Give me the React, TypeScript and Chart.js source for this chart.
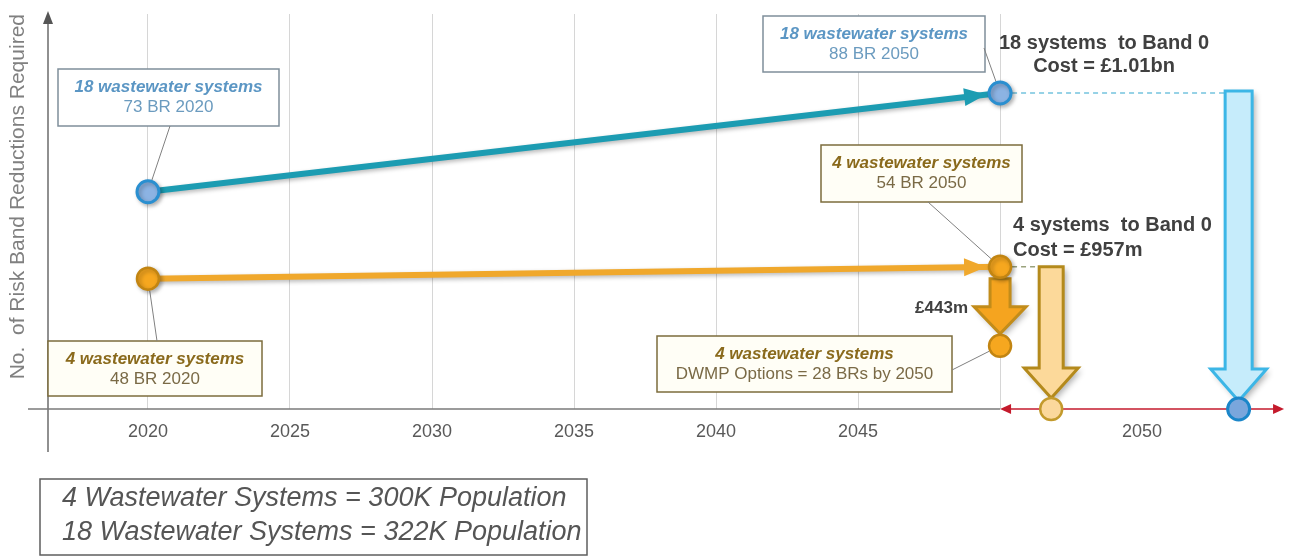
import React, { useEffect, useRef } from 'react';
import { Chart, registerables } from 'chart.js';

Chart.register(...registerables);

const FONT = "'Liberation Sans', Arial, Helvetica, sans-serif";

// ---------- data ----------
const seriesYears = [2020, 2050];
// plotted level on the (unlabelled) vertical axis
const systems18Level = [55, 80];
const systems4Level = [33, 36];
// risk band reductions written in the call-outs
const br18 = [73, 88];
const br4 = [48, 54];
const dwmpYear = [2050];
const dwmpLevel = [16];
const dwmpBR = [28];
const band0Years = [2051.8, 2058.4];
const band0Level = [0, 0];
const systemCounts = [18, 4];
const costLabels = ['£1.01bn', '£957m', '£443m'];
const populationLabels = ['300K', '322K'];
const gridYears = [2020, 2025, 2030, 2035, 2040, 2045, 2050];
const tickLabelYears = [2020, 2025, 2030, 2035, 2040, 2045, 2055];
const tickLabels = ['2020', '2025', '2030', '2035', '2040', '2045', '2050'];
const axisRange = [2016.48, 2059.68];
const axisEndYear = 2060;
const yTitle = 'No.  of Risk Band Reductions Required';

const allTicks = Array.from(new Set([...gridYears, ...tickLabelYears])).sort((a, b) => a - b);

// ---------- colours ----------
const BLUE_LINE = '#1c9cb2';
const BLUE_FILL = '#8cb3e3';
const BLUE_EDGE = '#2a8fd0';
const GOLD_LINE = '#f0a82c';
const GOLD_FILL = '#f6a71f';
const GOLD_EDGE = '#c28512';

type Box = {
  x: number; y: number; w: number; h: number; kind: 'blue' | 'gold';
  title: string; sub: string; from: [number, number]; ds: number; idx: number;
};

const BOXES: Box[] = [
  { x: 58, y: 69, w: 221, h: 57, kind: 'blue', title: `${systemCounts[0]} wastewater systems`, sub: `${br18[0]} BR ${seriesYears[0]}`, from: [170, 126], ds: 0, idx: 0 },
  { x: 763, y: 16, w: 222, h: 56, kind: 'blue', title: `${systemCounts[0]} wastewater systems`, sub: `${br18[1]} BR ${seriesYears[1]}`, from: [984, 48], ds: 0, idx: 1 },
  { x: 821, y: 145, w: 201, h: 57, kind: 'gold', title: `${systemCounts[1]} wastewater systems`, sub: `${br4[1]} BR ${seriesYears[1]}`, from: [928, 202], ds: 1, idx: 1 },
  { x: 657, y: 336, w: 295, h: 56, kind: 'gold', title: `${systemCounts[1]} wastewater systems`, sub: `DWMP Options = ${dwmpBR[0]} BRs by ${dwmpYear[0]}`, from: [952, 370], ds: 2, idx: 0 },
  { x: 48, y: 341, w: 214, h: 55, kind: 'gold', title: `${systemCounts[1]} wastewater systems`, sub: `${br4[0]} BR ${seriesYears[0]}`, from: [157, 341], ds: 1, idx: 0 },
];

function text(ctx: CanvasRenderingContext2D, s: string, x: number, y: number, size: number, color: string,
  o: { align?: CanvasTextAlign; weight?: string; style?: string } = {}) {
  ctx.save();
  ctx.font = `${o.style || 'normal'} ${o.weight || 'normal'} ${size}px ${FONT}`;
  ctx.fillStyle = color;
  ctx.textAlign = o.align || 'center';
  ctx.textBaseline = 'middle';
  ctx.fillText(s, x, y);
  ctx.restore();
}

function bigArrow(ctx: CanvasRenderingContext2D, cx: number, yTop: number, yTip: number, shw: number, hhw: number,
  hl: number, fill: string, stroke: string) {
  const yb = yTip - hl;
  ctx.save();
  ctx.beginPath();
  ctx.moveTo(cx - shw, yTop);
  ctx.lineTo(cx + shw, yTop);
  ctx.lineTo(cx + shw, yb);
  ctx.lineTo(cx + hhw, yb);
  ctx.lineTo(cx, yTip);
  ctx.lineTo(cx - hhw, yb);
  ctx.lineTo(cx - shw, yb);
  ctx.closePath();
  ctx.shadowColor = 'rgba(0,0,0,0.32)';
  ctx.shadowBlur = 6;
  ctx.shadowOffsetX = 3;
  ctx.shadowOffsetY = 3;
  ctx.fillStyle = fill;
  ctx.fill();
  ctx.shadowColor = 'rgba(0,0,0,0)';
  ctx.lineJoin = 'miter';
  ctx.lineWidth = 3;
  ctx.strokeStyle = stroke;
  ctx.stroke();
  ctx.restore();
}

function tri(ctx: CanvasRenderingContext2D, tx: number, ty: number, ux: number, uy: number, len: number, hw: number, color: string) {
  const bx = tx - ux * len, by = ty - uy * len;
  ctx.beginPath();
  ctx.moveTo(tx, ty);
  ctx.lineTo(bx - uy * hw, by + ux * hw);
  ctx.lineTo(bx + uy * hw, by - ux * hw);
  ctx.closePath();
  ctx.fillStyle = color;
  ctx.fill();
}

const infographic = {
  id: 'infographic',
  beforeDatasetsDraw(chart: any) {
    const { ctx, chartArea: ca, scales } = chart;
    const X = (v: number) => scales.x.getPixelForValue(v);
    const Y = (v: number) => scales.y.getPixelForValue(v);
    const y0 = Y(0);
    const xEnd = X(axisEndYear);
    ctx.save();

    // vertical axis with arrow
    ctx.strokeStyle = '#6b6b6b';
    ctx.lineWidth = 1.5;
    ctx.beginPath();
    ctx.moveTo(ca.left, 452);
    ctx.lineTo(ca.left, 20);
    ctx.stroke();
    tri(ctx, ca.left, 11, 0, -1, 13, 5, '#555');

    // horizontal axis (grey part)
    ctx.strokeStyle = '#7a7a7a';
    ctx.beginPath();
    ctx.moveTo(28, y0);
    ctx.lineTo(X(2050), y0);
    ctx.stroke();

    // red double-headed 2050 segment
    ctx.strokeStyle = '#c41a2c';
    ctx.lineWidth = 1.5;
    ctx.beginPath();
    ctx.moveTo(X(2050) + 6, y0);
    ctx.lineTo(xEnd - 6, y0);
    ctx.stroke();
    tri(ctx, X(2050), y0, -1, 0, 11, 5, '#c41a2c');
    tri(ctx, xEnd, y0, 1, 0, 11, 5, '#c41a2c');

    // dashed connectors
    const p18 = chart.getDatasetMeta(0).data[1];
    const p4 = chart.getDatasetMeta(1).data[1];
    ctx.setLineDash([5, 4]);
    ctx.lineWidth = 1.5;
    ctx.strokeStyle = '#74c3de';
    ctx.beginPath();
    ctx.moveTo(p18.x + 12, p18.y);
    ctx.lineTo(X(band0Years[1]), p18.y);
    ctx.stroke();
    ctx.strokeStyle = '#9aa27c';
    ctx.beginPath();
    ctx.moveTo(p4.x + 12, p4.y);
    ctx.lineTo(X(band0Years[0]), p4.y);
    ctx.stroke();
    ctx.setLineDash([]);

    // big arrows
    bigArrow(ctx, X(band0Years[1]), Y(systems18Level[1]) - 2, y0 - 8, 13.5, 28, 32, '#c6ecfb', '#3cb6e6');
    bigArrow(ctx, X(band0Years[0]), Y(systems4Level[1]), y0 - 11, 12, 27, 30, '#fcd99a', '#b48a1c');
    bigArrow(ctx, X(dwmpYear[0]), Y(systems4Level[1]) + 12, Y(dwmpLevel[0]) - 12, 10, 26, 27, '#f5a41f', '#c28c1a');

    // call-out boxes with leader lines
    for (const b of BOXES) {
      const blue = b.kind === 'blue';
      ctx.fillStyle = blue ? '#ffffff' : '#fffef6';
      ctx.fillRect(b.x, b.y, b.w, b.h);
      ctx.strokeStyle = blue ? '#7f8e9a' : '#7c6c3c';
      ctx.lineWidth = 1.5;
      ctx.strokeRect(b.x, b.y, b.w, b.h);
      const cx = b.x + b.w / 2;
      text(ctx, b.title, cx, b.y + 18, 17, blue ? '#5b96c4' : '#8a6a1c', { weight: 'bold', style: 'italic' });
      text(ctx, b.sub, cx, b.y + 38, 17, blue ? '#6b9bbf' : '#7a6a46');
      const pt = chart.getDatasetMeta(b.ds).data[b.idx];
      const dx = b.from[0] - pt.x, dy = b.from[1] - pt.y;
      const d = Math.hypot(dx, dy);
      ctx.strokeStyle = '#808080';
      ctx.lineWidth = 1;
      ctx.beginPath();
      ctx.moveTo(b.from[0], b.from[1]);
      ctx.lineTo(pt.x + (dx / d) * 12, pt.y + (dy / d) * 12);
      ctx.stroke();
    }

    // cost annotations
    text(ctx, `${systemCounts[0]} systems  to Band 0`, 1104, 43, 20, '#404040', { weight: 'bold' });
    text(ctx, `Cost = ${costLabels[0]}`, 1104, 66, 20, '#404040', { weight: 'bold' });
    text(ctx, `${systemCounts[1]} systems  to Band 0`, 1013, 225, 20, '#404040', { weight: 'bold', align: 'left' });
    text(ctx, `Cost = ${costLabels[1]}`, 1013, 250, 20, '#404040', { weight: 'bold', align: 'left' });
    text(ctx, costLabels[2], 968, 308, 17, '#404040', { weight: 'bold', align: 'right' });

    // population key
    ctx.fillStyle = '#ffffff';
    ctx.fillRect(40, 479, 547, 76);
    ctx.strokeStyle = '#5e5e5e';
    ctx.lineWidth = 1.5;
    ctx.strokeRect(40, 479, 547, 76);
    text(ctx, `${systemCounts[1]} Wastewater Systems = ${populationLabels[0]} Population`, 62, 498, 27, '#555555', { style: 'italic', align: 'left' });
    text(ctx, `${systemCounts[0]} Wastewater Systems = ${populationLabels[1]} Population`, 62, 532, 27, '#555555', { style: 'italic', align: 'left' });

    ctx.restore();
  },
  beforeDatasetDraw(chart: any, args: any) {
    const ctx = chart.ctx;
    ctx.save();
    if (args.index <= 1) {
      ctx.shadowColor = 'rgba(0,0,0,0.28)';
      ctx.shadowBlur = 4;
      ctx.shadowOffsetX = 2;
      ctx.shadowOffsetY = 2;
    }
  },
  afterDatasetDraw(chart: any) {
    chart.ctx.restore();
  },
  afterDatasetsDraw(chart: any) {
    const ctx = chart.ctx;
    const heads = [
      { ds: 0, color: BLUE_LINE },
      { ds: 1, color: GOLD_LINE },
    ];
    for (const h of heads) {
      const pts = chart.getDatasetMeta(h.ds).data;
      const a = pts[0], b = pts[1];
      const dx = b.x - a.x, dy = b.y - a.y, d = Math.hypot(dx, dy);
      const ux = dx / d, uy = dy / d;
      tri(ctx, b.x - ux * 14, b.y - uy * 14, ux, uy, 22, 9, h.color);
    }
  },
};

export default function App() {
  const ref = useRef<HTMLCanvasElement>(null);
  useEffect(() => {
    const canvas = ref.current;
    if (!canvas) return;
    const goldPoint = {
      pointRadius: 11,
      pointBackgroundColor: GOLD_FILL,
      pointBorderColor: GOLD_EDGE,
      pointBorderWidth: 2.5,
    };
    const chart = new Chart(canvas, {
      type: 'scatter',
      data: {
        datasets: [
          {
            label: '18 wastewater systems',
            data: seriesYears.map((x, i) => ({ x, y: systems18Level[i] })),
            showLine: true,
            borderColor: BLUE_LINE,
            borderWidth: 6,
            pointRadius: 11,
            pointBackgroundColor: BLUE_FILL,
            pointBorderColor: BLUE_EDGE,
            pointBorderWidth: 3,
            clip: false,
          },
          {
            label: '4 wastewater systems',
            data: seriesYears.map((x, i) => ({ x, y: systems4Level[i] })),
            showLine: true,
            borderColor: GOLD_LINE,
            borderWidth: 6,
            clip: false,
            ...goldPoint,
          },
          {
            label: 'DWMP options',
            data: dwmpYear.map((x, i) => ({ x, y: dwmpLevel[i] })),
            showLine: false,
            clip: false,
            ...goldPoint,
          },
          {
            label: 'Band 0',
            data: band0Years.map((x, i) => ({ x, y: band0Level[i] })),
            showLine: false,
            clip: false,
            pointRadius: [11, 11],
            pointBackgroundColor: ['#fbd89c', '#7aa6dc'],
            pointBorderColor: ['#c39a2c', '#1b86c9'],
            pointBorderWidth: [2.5, 3],
          },
        ],
      } as any,
      options: {
        responsive: false,
        animation: false,
        events: [],
        layout: { padding: { left: 0, right: 6, top: 10, bottom: 0 } },
        plugins: { legend: { display: false }, tooltip: { enabled: false } },
        scales: {
          x: {
            type: 'linear',
            min: axisRange[0],
            max: axisRange[1],
            afterBuildTicks: (scale: any) => {
              scale.ticks = allTicks.map((v) => ({ value: v }));
            },
            afterFit: (scale: any) => {
              scale.height = 150;
            },
            border: { display: false },
            grid: {
              drawTicks: false,
              lineWidth: 1,
              color: (c: any) => (gridYears.includes(c.tick?.value) ? '#d6d6d6' : 'rgba(0,0,0,0)'),
            },
            ticks: {
              autoSkip: false,
              maxRotation: 0,
              padding: 12,
              color: '#595959',
              font: { size: 18, family: FONT },
              callback: (v: any) => {
                const i = tickLabelYears.indexOf(Number(v));
                return i >= 0 ? tickLabels[i] : '';
              },
            },
          },
          y: {
            min: 0,
            max: 100,
            afterFit: (scale: any) => {
              scale.width = 48;
            },
            border: { display: false },
            grid: { display: false },
            ticks: { display: false },
            title: {
              display: true,
              text: yTitle,
              align: 'end',
              color: '#808080',
              font: { size: 21, family: FONT },
              padding: { top: 6, bottom: 0 },
            },
          },
        },
      } as any,
      plugins: [infographic],
    });
    return () => chart.destroy();
  }, []);

  return (
    <div style={{ position: 'absolute', left: 0, top: 0, width: 1289, height: 559, background: '#ffffff' }}>
      <canvas ref={ref} width={1289} height={559} style={{ display: 'block', width: 1289, height: 559 }} />
    </div>
  );
}
